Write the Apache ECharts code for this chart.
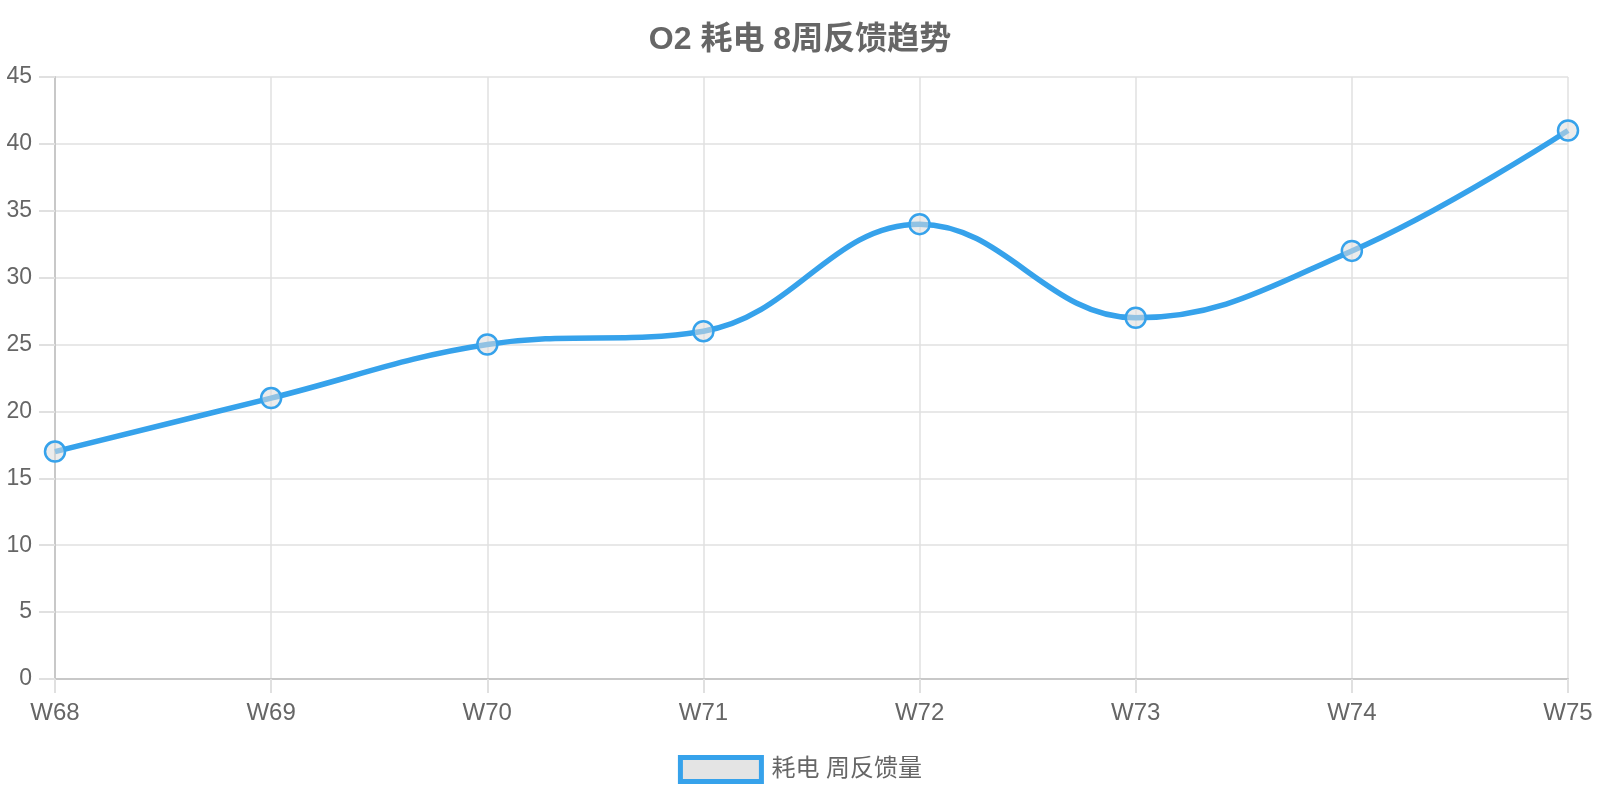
<!DOCTYPE html>
<html>
<head>
<meta charset="utf-8">
<script src="https://cdn.jsdelivr.net/npm/echarts@6/dist/echarts.min.js"></script>
<style>
html,body{margin:0;padding:0;background:#fff;}
#chart{width:1600px;height:800px;}
</style>
</head>
<body>
<div id="chart"></div>
<script>
const titleText = 'O2 耗电 8周反馈趋势';
const seriesName = '耗电 周反馈量';
const categories = ['W68','W69','W70','W71','W72','W73','W74','W75'];
const values = [17, 21, 25, 26, 34, 27, 32, 41];
const yMin = 0, yMax = 45, yInterval = 5;

const FONT = "'Helvetica Neue', Helvetica, Arial, 'Liberation Sans', 'Noto Sans CJK SC', sans-serif";
const BLUE = '#36a2eb';
const chart = echarts.init(document.getElementById('chart'));
chart.setOption({
  animation: false,
  backgroundColor: '#fff',
  title: {
    text: titleText,
    left: 'center',
    top: 19,
    textStyle: {color: '#666', fontSize: 32, fontWeight: 'bold', fontFamily: FONT}
  },
  legend: {
    data: [seriesName],
    left: 'center',
    top: 750,
    icon: 'rect',
    itemWidth: 81,
    itemHeight: 24,
    itemStyle: {color: 'rgba(228,228,228,1)', borderColor: BLUE, borderWidth: 5},
    textStyle: {color: '#666', fontSize: 24, fontFamily: FONT, padding: [0,0,0,5]}
  },
  grid: {left: 55, right: 32, top: 77, bottom: 121, containLabel: false},
  xAxis: {
    type: 'category',
    data: categories,
    boundaryGap: false,
    axisLine: {show: true, lineStyle: {color: '#c8c8c8', width: 2}},
    axisTick: {show: true, length: 14, lineStyle: {color: '#e0e0e0', width: 2}},
    splitLine: {show: true, lineStyle: {color: '#e0e0e0', width: 1.5}},
    axisLabel: {color: '#666', fontSize: 24, fontFamily: FONT, margin: 22}
  },
  yAxis: {
    type: 'value',
    min: yMin, max: yMax, interval: yInterval,
    axisLine: {show: true, lineStyle: {color: '#c8c8c8', width: 2}},
    axisTick: {show: true, length: 16, lineStyle: {color: '#e0e0e0', width: 2}},
    splitLine: {show: true, lineStyle: {color: '#e0e0e0', width: 1.5}},
    axisLabel: {color: '#666', fontSize: 23, fontFamily: FONT, margin: 23}
  },
  series: [{
    name: seriesName,
    type: 'line',
    data: values,
    smooth: 0.4,
    symbol: 'circle',
    symbolSize: 20,
    lineStyle: {color: BLUE, width: 5.5},
    itemStyle: {color: 'rgba(220,220,220,0.55)', borderColor: BLUE, borderWidth: 2.5}
  }]
});
</script>
</body>
</html>
